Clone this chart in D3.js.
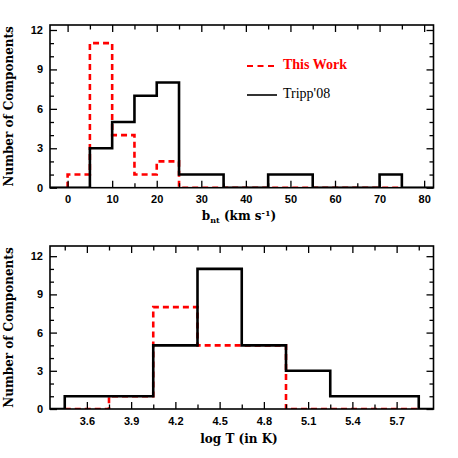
<!DOCTYPE html>
<html>
<head>
<meta charset="utf-8">
<script src="https://cdn.jsdelivr.net/npm/d3@7"></script>
<style>
  body { margin: 0; background: #fff; }
  svg { display: block; }
  .tick text { font-family: "Liberation Sans", Arial, sans-serif; font-weight: bold; font-size: 11px; fill: #000; }
  .lab { font-family: "DejaVu Serif", serif; font-weight: bold; font-size: 12px; }
  .leg { font-family: "Liberation Serif", serif; font-size: 14px; }
</style>
</head>
<body>
<svg width="458" height="458"></svg>
<script>
'use strict';
// top panel: b_nt histogram (bins of 5 km/s)
var bEdges = [-5, 0, 5, 10, 15, 20, 25, 30, 35, 40, 45, 50, 55, 60, 65, 70, 75, 80, 85];
var trippB = [0, 0, 3, 5, 7, 8, 1, 1, 0, 0, 1, 1, 0, 0, 0, 1, 0, 0];
var workBEdges = [0, 5, 10, 15, 20, 25, 30, 35, 40, 45, 50, 55, 60, 65, 70, 75];
var workB = [1, 11, 4, 1, 2, 0, 0, 0, 0, 0, 0, 0, 0, 0, 0];
var bMajor = [0, 10, 20, 30, 40, 50, 60, 70, 80];
var bMinor = [5, 15, 25, 35, 45, 55, 65, 75];

// bottom panel: log T histogram (bins of 0.3 dex)
var tEdges = [3.15, 3.45, 3.75, 4.05, 4.35, 4.65, 4.95, 5.25, 5.55, 5.85, 6.15];
var trippT = [0, 1, 1, 5, 11, 5, 3, 1, 1, 0];
var workTEdges = [3.45, 3.75, 4.05, 4.35, 4.65, 4.95, 5.25, 5.55, 5.85];
var workT = [0, 1, 8, 5, 5, 0, 0, 0];
var tMajor = [3.6, 3.9, 4.2, 4.5, 4.8, 5.1, 5.4, 5.7];
var tMinor = [3.45, 3.75, 4.05, 4.35, 4.65, 4.95, 5.25, 5.55, 5.85];

var yMajor = [0, 3, 6, 9, 12];
var yMinor = [1, 2, 4, 5, 7, 8, 10, 11];

var svg = d3.select("svg");
var left = 50, right = 433.5;

function stepPoints(edges, counts) {
  var pts = [[edges[0], 0]];
  counts.forEach(function(c, i) {
    pts.push([edges[i], c]);
    pts.push([edges[i + 1], c]);
  });
  pts.push([edges[edges.length - 1], 0]);
  return pts;
}

function panel(opt) {
  var x = d3.scaleLinear().domain(opt.xDomain).range([left, right]);
  var y = d3.scaleLinear().domain(opt.yDomain).range([opt.bottom, opt.top]);
  var h = opt.bottom - opt.top;
  var g = svg.append("g");

  g.append("clipPath").attr("id", opt.id)
    .append("rect")
    .attr("x", left).attr("y", opt.top)
    .attr("width", right - left).attr("height", h);

  var line = d3.line()
    .x(function(d) { return x(d[0]); })
    .y(function(d) { return y(d[1]); });

  var plot = g.append("g").attr("clip-path", "url(#" + opt.id + ")");
  plot.append("path")
    .attr("d", line(stepPoints(opt.workEdges, opt.work)))
    .attr("fill", "none")
    .attr("stroke", "#ff0000")
    .attr("stroke-width", 2.6)
    .attr("stroke-dasharray", "6,4");
  plot.append("path")
    .attr("d", line(stepPoints(opt.trippEdges, opt.tripp)))
    .attr("fill", "none")
    .attr("stroke", "#000")
    .attr("stroke-width", 2.6);

  function ax(gen, tx, ty, vals, size, labels, fmt) {
    var a = gen.tickValues(vals).tickSize(size).tickPadding(0);
    if (!labels) a.tickFormat("");
    else if (fmt) a.tickFormat(fmt);
    var s = g.append("g").attr("transform", "translate(" + tx + "," + ty + ")").call(a);
    s.select(".domain").remove();
    s.selectAll("line").attr("stroke", "#000").attr("stroke-width", 1.3);
    return s;
  }

  var xb = ax(d3.axisBottom(x), 0, opt.bottom, opt.xMajor, -7, true, opt.xFmt);
  xb.selectAll("text").attr("y", 8);
  ax(d3.axisBottom(x), 0, opt.bottom, opt.xMinor, -4.5, false);
  ax(d3.axisTop(x), 0, opt.top, opt.xMajor, -7, false);
  ax(d3.axisTop(x), 0, opt.top, opt.xMinor, -4.5, false);
  var yl = ax(d3.axisLeft(y), left, 0, yMajor, -7, true);
  yl.selectAll("text").attr("x", -7);
  ax(d3.axisLeft(y), left, 0, yMinor, -4, false);
  ax(d3.axisRight(y), right, 0, yMajor, -7, false);
  ax(d3.axisRight(y), right, 0, yMinor, -4, false);

  g.append("rect")
    .attr("x", left).attr("y", opt.top)
    .attr("width", right - left).attr("height", h)
    .attr("fill", "none").attr("stroke", "#000").attr("stroke-width", 1.6);

  g.append("text").attr("class", "lab")
    .attr("transform", "translate(13," + (opt.top + h / 2) + ") rotate(-90)")
    .attr("text-anchor", "middle")
    .text("Number of Components");

  return {x: x, y: y, g: g};
}

var p1 = panel({
  id: "clipTop", top: 25, bottom: 187.7,
  xDomain: [-3.95, 82.1], yDomain: [0, 12.38],
  trippEdges: bEdges, tripp: trippB, workEdges: workBEdges, work: workB,
  xMajor: bMajor, xMinor: bMinor
});

var bl = p1.g.append("text").attr("class", "lab")
  .attr("x", 239).attr("y", 220).attr("text-anchor", "middle");
bl.append("tspan").text("b");
bl.append("tspan").attr("font-size", "8px").attr("dy", 3).text("nt");
bl.append("tspan").attr("dy", -3).text(" (km s");
bl.append("tspan").attr("font-size", "8px").attr("dy", -4).text("-1");
bl.append("tspan").attr("dy", 4).text(")");

// legend
var leg = p1.g.append("g");
leg.append("line").attr("x1", 247).attr("x2", 274).attr("y1", 66).attr("y2", 66)
  .attr("stroke", "#ff0000").attr("stroke-width", 2).attr("stroke-dasharray", "6,4.5");
leg.append("text").attr("class", "leg").attr("x", 283).attr("y", 69)
  .style("font-weight", "bold").attr("fill", "#ff0000").text("This Work");
leg.append("line").attr("x1", 247).attr("x2", 277).attr("y1", 95).attr("y2", 95)
  .attr("stroke", "#000").attr("stroke-width", 1.6);
leg.append("text").attr("class", "leg").attr("x", 283).attr("y", 98)
  .text("Tripp'08");

var p2 = panel({
  id: "clipBot", top: 246, bottom: 409,
  xDomain: [3.35, 5.95], yDomain: [0, 12.8],
  trippEdges: tEdges, tripp: trippT, workEdges: workTEdges, work: workT,
  xMajor: tMajor, xMinor: tMinor, xFmt: d3.format(".1f")
});

p2.g.append("text").attr("class", "lab")
  .attr("x", 239).attr("y", 443).attr("text-anchor", "middle")
  .text("log T (in K)");
</script>
</body>
</html>
